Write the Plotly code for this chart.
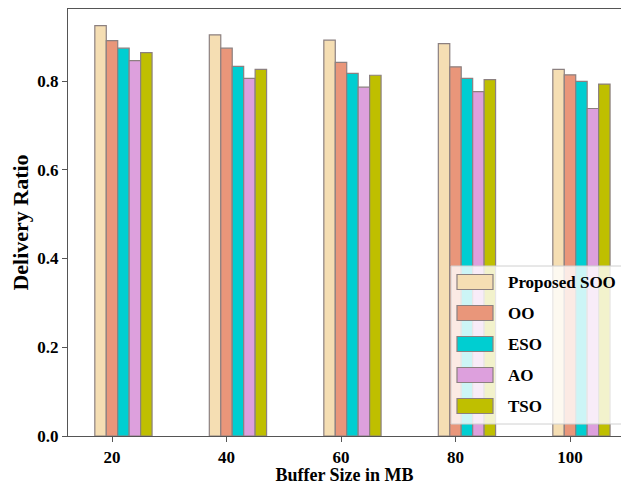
import plotly.graph_objects as go

buffer_sizes = [20, 40, 60, 80, 100]
series_names = ["Proposed SOO", "OO", "ESO", "AO", "TSO"]
proposed_soo = [0.925, 0.904, 0.892, 0.884, 0.826]
oo = [0.891, 0.874, 0.842, 0.832, 0.814]
eso = [0.874, 0.833, 0.817, 0.806, 0.799]
ao = [0.846, 0.806, 0.786, 0.776, 0.738]
tso = [0.864, 0.826, 0.813, 0.803, 0.793]
y_ticks = [0.0, 0.2, 0.4, 0.6, 0.8]

values = [proposed_soo, oo, eso, ao, tso]
colors = ["#F5DEB3", "#E9967A", "#00CED1", "#DDA0DD", "#BFBF00"]
edge = "#8C8080"
FONT = "Liberation Serif"

# page has an 8px body margin: figure coordinates = page coordinates - 8
OFF = 8
W, H = 613, 477
L, R, T, B = 68 - OFF, W, 8 - OFF + 1, 436 - OFF

fig = go.Figure()
for i, (name, vals, col) in enumerate(zip(series_names, values, colors)):
    fig.add_trace(go.Bar(
        x=buffer_sizes, y=vals, name=name, width=2, offset=-3 + 2 * i,
        marker=dict(color=col, line=dict(color=edge, width=1.2)),
        showlegend=False,
    ))

def px(x):
    return (x - OFF - L) / (R - L)
def py(y):
    return (B - (y - OFF)) / (B - T)

shapes = [dict(type="rect", xref="paper", yref="paper",
               x0=px(451), x1=px(650), y0=py(424), y1=py(266),
               fillcolor="rgba(255,255,255,0.8)", line=dict(color="#D0D0D0", width=1),
               layer="above")]
annotations = []
for i, (name, col) in enumerate(zip(series_names, colors)):
    cy = 282 + 31 * i
    shapes.append(dict(type="rect", xref="paper", yref="paper",
                       x0=px(457), x1=px(493), y0=py(cy + 7.5), y1=py(cy - 7.5),
                       fillcolor=col, line=dict(color=edge, width=1.2), layer="above"))
    annotations.append(dict(xref="paper", yref="paper", x=px(506), y=py(cy),
                            xanchor="left", yanchor="middle", showarrow=False,
                            text="<b>%s</b>" % name,
                            font=dict(family=FONT, size=17, color="black")))

# visible x extent: tick 20 at page x 112, 5.725 px per unit
x_left = 20 - (112 - 68) / 5.725
x_right = 20 + (OFF + W - 112) / 5.725

fig.update_layout(
    width=W, height=H,
    margin=dict(l=L, r=0, t=T, b=H - B),
    plot_bgcolor="white", paper_bgcolor="white",
    barmode="overlay",
    shapes=shapes, annotations=annotations,
    font=dict(family=FONT, color="black"),
    xaxis=dict(range=[x_left, x_right], tickvals=buffer_sizes,
               ticktext=["<b>%d</b>" % v for v in buffer_sizes],
               showline=True, linecolor="#555555", linewidth=1.3, mirror=True,
               ticks="outside", ticklen=5, tickcolor="#555555",
               showgrid=False, zeroline=False,
               tickfont=dict(family=FONT, size=17, color="black"),
               title=dict(text="<b>Buffer Size in MB</b>", standoff=4,
                          font=dict(family=FONT, size=18, color="black"))),
    yaxis=dict(range=[0, 0.9645 * (B - T) / (428)], tickvals=y_ticks,
               ticktext=["<b>%.1f</b>" % v for v in y_ticks],
               showline=True, linecolor="#555555", linewidth=1.3, mirror=False,
               ticks="outside", ticklen=5, tickcolor="#555555",
               showgrid=False, zeroline=False,
               tickfont=dict(family=FONT, size=17, color="black"),
               title=dict(text="<b>Delivery Ratio</b>", standoff=7,
                          font=dict(family=FONT, size=22, color="black"))),
)

fig.write_html("out.html")
